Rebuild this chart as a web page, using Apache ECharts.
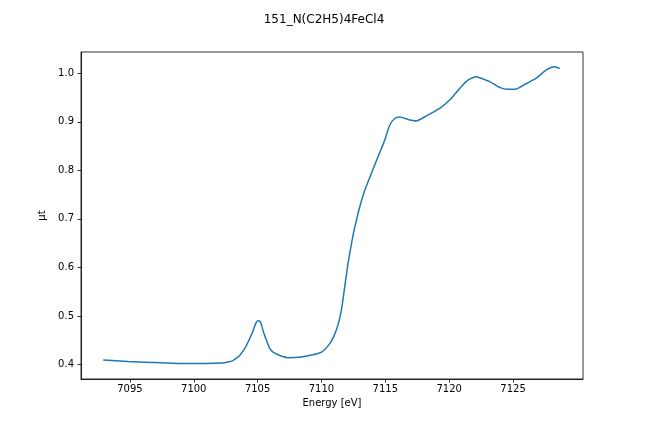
<!DOCTYPE html>
<html>
<head>
<meta charset="utf-8">
<script src="https://cdn.jsdelivr.net/npm/echarts@6/dist/echarts.min.js"></script>
<style>
  html, body { margin: 0; padding: 0; background: #fff; }
  #chart { width: 648px; height: 432px; }
</style>
</head>
<body>
<div id="chart"></div>
<script>
// energy [eV] and absorption values
const energy = [
  7092.91, 7094.84, 7097.50, 7099.30, 7100.87, 7102.20, 7102.67, 7103.06, 7103.45, 7103.61,
  7104.00, 7104.39, 7104.65, 7104.85, 7105.02, 7105.18, 7105.30, 7105.43, 7105.70, 7105.95, 7106.21,
  7106.74, 7107.39, 7108.30, 7109.32, 7110.00, 7110.65, 7111.00, 7111.30, 7111.56, 7111.82, 7112.08,
  7112.35, 7112.61, 7113.00, 7113.39, 7113.91, 7114.43, 7114.95, 7115.34, 7115.74, 7116.13,
  7116.78, 7117.43, 7118.22, 7119.26, 7120.04, 7120.82, 7121.47, 7122.13, 7122.39, 7123.17,
  7123.95, 7124.60, 7125.13, 7126.04, 7126.82, 7127.61, 7128.26, 7128.65
];
const mu = [
  0.409, 0.406, 0.4035, 0.402, 0.402, 0.403, 0.405, 0.408, 0.415, 0.419,
  0.433, 0.454, 0.470, 0.484, 0.490, 0.489, 0.482, 0.469, 0.4495, 0.433, 0.4254,
  0.4185, 0.414, 0.415, 0.420, 0.4254, 0.443, 0.460, 0.482, 0.512, 0.560, 0.608,
  0.649, 0.683, 0.725, 0.759, 0.794, 0.828, 0.862, 0.893, 0.907, 0.910,
  0.905, 0.902, 0.9125, 0.928, 0.945, 0.969, 0.986, 0.993, 0.991, 0.983,
  0.971, 0.967, 0.967, 0.979, 0.990, 1.007, 1.0136, 1.010
];
const xTicks = [7095, 7100, 7105, 7110, 7115, 7120, 7125];
const yTicks = [0.4, 0.5, 0.6, 0.7, 0.8, 0.9, 1.0];

const font = 'DejaVu Sans';
const chart = echarts.init(document.getElementById('chart'));
chart.setOption({
  animation: false,
  title: {
    text: '151_N(C2H5)4FeCl4',
    left: 'center',
    top: 9,
    textStyle: { fontFamily: font, fontSize: 12, fontWeight: 'normal', color: '#000' }
  },
  grid: {
    left: 81, right: 65, top: 52, bottom: 53,
    show: true, borderColor: '#000', borderWidth: 0.8, backgroundColor: '#fff'
  },
  xAxis: {
    type: 'value',
    min: 7091.17,
    max: 7130.48,
    name: 'Energy [eV]',
    nameLocation: 'middle',
    nameGap: 19,
    nameTextStyle: { fontFamily: font, fontSize: 10, color: '#000' },
    splitLine: { show: false },
    axisLine: { show: true, onZero: false, lineStyle: { color: '#000', width: 0.8 } },
    axisTick: { show: true, length: 3.5, customValues: xTicks, lineStyle: { color: '#000', width: 0.8 } },
    axisLabel: {
      customValues: xTicks, margin: 5, fontFamily: font, fontSize: 10, color: '#000',
      formatter: v => String(v)
    }
  },
  yAxis: {
    type: 'value',
    min: 0.370,
    max: 1.044,
    name: 'μt',
    nameLocation: 'middle',
    nameGap: 33,
    nameTextStyle: { fontFamily: font, fontSize: 10, color: '#000' },
    splitLine: { show: false },
    axisLine: { show: true, onZero: false, lineStyle: { color: '#000', width: 0.8 } },
    axisTick: { show: true, length: 3.5, customValues: yTicks, lineStyle: { color: '#000', width: 0.8 } },
    axisLabel: {
      customValues: yTicks, margin: 7, fontFamily: font, fontSize: 10, color: '#000',
      formatter: v => v.toFixed(1)
    }
  },
  series: [{
    type: 'line',
    data: energy.map((e, i) => [e, mu[i]]),
    showSymbol: false,
    smooth: 0.2,
    lineStyle: { color: '#1f77b4', width: 1.5 },
    itemStyle: { color: '#1f77b4' }
  }]
});
</script>
</body>
</html>
